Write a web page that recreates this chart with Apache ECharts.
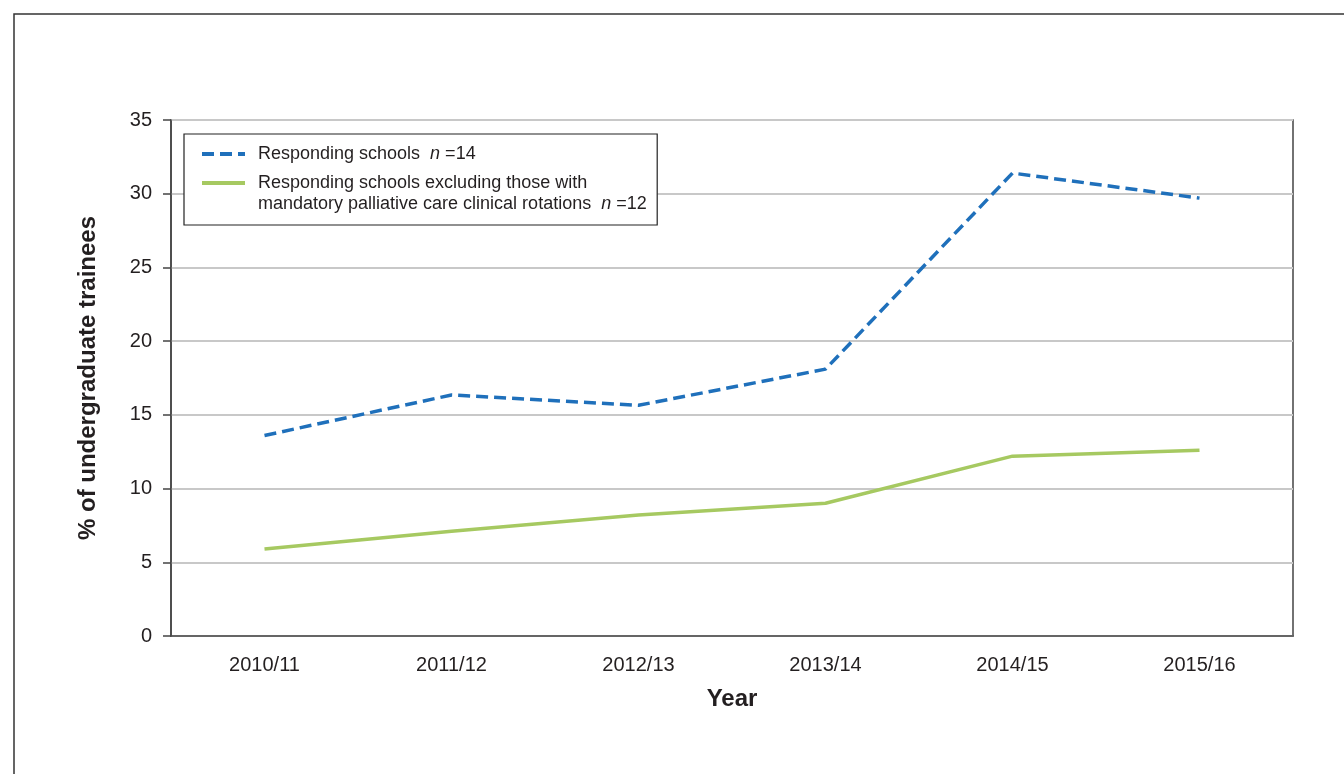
<!DOCTYPE html>
<html>
<head>
<meta charset="utf-8">
<script src="https://cdn.jsdelivr.net/npm/echarts@6/dist/echarts.min.js"></script>
<style>
html, body { margin: 0; padding: 0; background: #fff; }
#chart { width: 1344px; height: 774px; }
</style>
</head>
<body>
<div id="chart"></div>
<script>
var years = ['2010/11', '2011/12', '2012/13', '2013/14', '2014/15', '2015/16'];
var allSchools = [13.6, 16.35, 15.65, 18.1, 31.4, 29.7];
var excludingMandatory = [5.9, 7.1, 8.2, 9.0, 12.2, 12.6];
var yTicks = [0, 5, 10, 15, 20, 25, 30, 35];

var chart = echarts.init(document.getElementById('chart'));
var fontFamily = '"Liberation Sans", Arial, Helvetica, sans-serif';
var textColor = '#231f20';

var option = {
    animation: false,
    textStyle: { fontFamily: fontFamily },
    graphic: [{
        type: 'rect',
        shape: { x: 14, y: 14, width: 1400, height: 800 },
        style: { fill: 'none', stroke: '#333', lineWidth: 1.5 },
        silent: true
    }, {
        // second line of the long legend entry
        type: 'text',
        left: 258, top: 195,
        z: 100,
        style: {
            text: 'mandatory palliative care clinical rotations  {i|n} =12',
            font: '18px ' + fontFamily,
            fill: textColor,
            rich: { i: { fontStyle: 'italic', fontSize: 18, fill: textColor } }
        },
        silent: true
    }],
    grid: {
        left: 171, right: 51, top: 120, bottom: 138,
        show: true, borderColor: '#444', borderWidth: 1.5, backgroundColor: 'transparent'
    },
    legend: {
        orient: 'vertical',
        left: 184, top: 134,
        padding: [9, 70, 31, 16],
        itemGap: 7,
        itemWidth: 43, itemHeight: 10,
        borderColor: '#222', borderWidth: 1.2,
        backgroundColor: '#fff',
        data: [
            { name: 'all', itemStyle: { opacity: 0 }, lineStyle: { width: 4 } },
            { name: 'excl', itemStyle: { opacity: 0 }, lineStyle: { width: 4 } }
        ],
        formatter: function(name) {
            if (name === 'all') {
                return 'Responding schools  {i|n} =14';
            }
            return 'Responding schools excluding those with';
        },
        textStyle: {
            fontSize: 18, color: textColor, lineHeight: 22,
            padding: [0, 0, 0, 8],
            rich: { i: { fontStyle: 'italic', fontSize: 18, color: textColor } }
        }
    },
    xAxis: {
        type: 'category',
        data: years,
        boundaryGap: true,
        name: 'Year',
        nameLocation: 'middle',
        nameGap: 51,
        nameTextStyle: { fontSize: 24, fontWeight: 'bold', color: textColor },
        axisLine: { lineStyle: { color: '#444', width: 1.5 } },
        axisTick: { length: 8, lineStyle: { color: '#444', width: 1.5 } },
        axisLabel: { fontSize: 20, color: textColor, margin: 19 }
    },
    yAxis: {
        type: 'value',
        min: 0, max: 35, interval: 5,
        name: '% of undergraduate trainees',
        nameLocation: 'middle',
        nameGap: 71,
        nameTextStyle: { fontSize: 24, fontWeight: 'bold', color: textColor },
        axisLine: { show: true, lineStyle: { color: '#444', width: 1.5 } },
        axisTick: { show: true, length: 8, lineStyle: { color: '#444', width: 1.5 } },
        axisLabel: {
            fontSize: 20, color: textColor, margin: 19,
            formatter: function(v) { return yTicks.indexOf(v) >= 0 ? String(v) : ''; }
        },
        splitLine: { lineStyle: { color: '#c8c8c8', width: 2 } }
    },
    series: [{
        name: 'all',
        type: 'line',
        data: allSchools,
        symbol: 'none',
        lineStyle: { color: '#1f70bb', width: 3.5, type: [12, 6], cap: 'butt' },
        itemStyle: { color: '#1f70bb' }
    }, {
        name: 'excl',
        type: 'line',
        data: excludingMandatory,
        symbol: 'none',
        lineStyle: { color: '#a6c961', width: 3.5 },
        itemStyle: { color: '#a6c961' }
    }]
};
chart.setOption(option);
</script>
</body>
</html>
